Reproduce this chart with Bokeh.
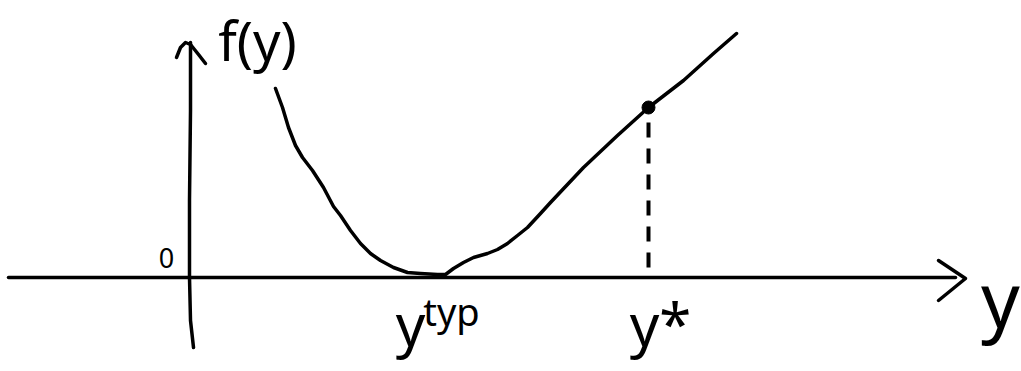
from bokeh.plotting import figure
from bokeh.models import Range1d
from bokeh.core.properties import value
from bokeh.embed import file_html
from bokeh.resources import INLINE

# Sketch of f(y): decays to zero near y_typ, then grows roughly linearly
curve_y = [86, 93, 99, 106, 113, 123, 134, 144, 151, 161, 171, 181, 191,
           204, 218, 231, 248, 256, 264, 274, 284, 298, 308, 318, 328, 338,
           351, 361, 394, 428, 459, 494, 524, 547]
curve_f = [189, 170, 150, 132, 120, 107, 90, 71, 62, 47, 34, 24, 17,
           10, 5, 4, 3, 3, 9, 15, 20, 24, 28, 34, 42, 50,
           64, 75, 110, 142, 170, 197, 224, 244]

# marked point y* on the curve
y_star = 459
f_star = 170

# hand-drawn axes (stem and arrow heads)
yaxis_x = [1, 1, 0, 0, 1, 4]
yaxis_f = [235, 167, 77, 0, -43, -70]
yhead_x = [[-13, -9, -4, 1], [1, 9, 16]]
yhead_f = [[220, 230, 235, 233], [233, 223, 214]]
xaxis_x = [-181, 766]
xaxis_f = [0, 0]
xhead_x = [749, 776, 749]
xhead_f = [17, -1, -23]

# labels (anchor = alphabetic baseline, horizontally centred)
label_text = ["f(y)", "0", "y", "typ", "y*", "y"]
label_x = [68, -23, 221, 262, 471, 811]
label_f = [238, 20, -46, -33, -46, -21]
label_size = ["54px", "27px", "58px", "38px", "58px", "76px"]

W, H = 1021, 371
p = figure(width=W, height=H, output_backend="svg", toolbar_location=None,
           x_range=Range1d(-189, W - 189), y_range=Range1d(277 - H, 277),
           x_axis_type=None, y_axis_type=None, min_border=0)
p.grid.visible = False
p.outline_line_color = None
p.background_fill_color = "white"
p.border_fill_color = "white"

ink = "black"

p.line(xaxis_x, xaxis_f, line_color=ink, line_width=3.5, line_cap="round")
p.line(xhead_x, xhead_f, line_color=ink, line_width=3.5, line_cap="round",
       line_join="round")
p.line(yaxis_x, yaxis_f, line_color=ink, line_width=3.5, line_cap="round",
       line_join="round")
p.multi_line(yhead_x, yhead_f, line_color=ink, line_width=3.5,
             line_cap="round", line_join="round")

p.line(curve_y, curve_f, line_color=ink, line_width=3.5, line_cap="round",
       line_join="round")

p.line([y_star, y_star], [f_star - 15, 7], line_color=ink, line_width=4,
       line_dash="15 11")
p.scatter([y_star], [f_star], size=13, fill_color=ink, line_color=ink)

for t, x, f, s in zip(label_text, label_x, label_f, label_size):
    p.text([x], [f], text=[t], text_font=value("Noto Sans"),
           text_font_size=s, text_color=ink, text_align="center",
           text_baseline="alphabetic")

open("out.html", "w").write(file_html(p, INLINE))
